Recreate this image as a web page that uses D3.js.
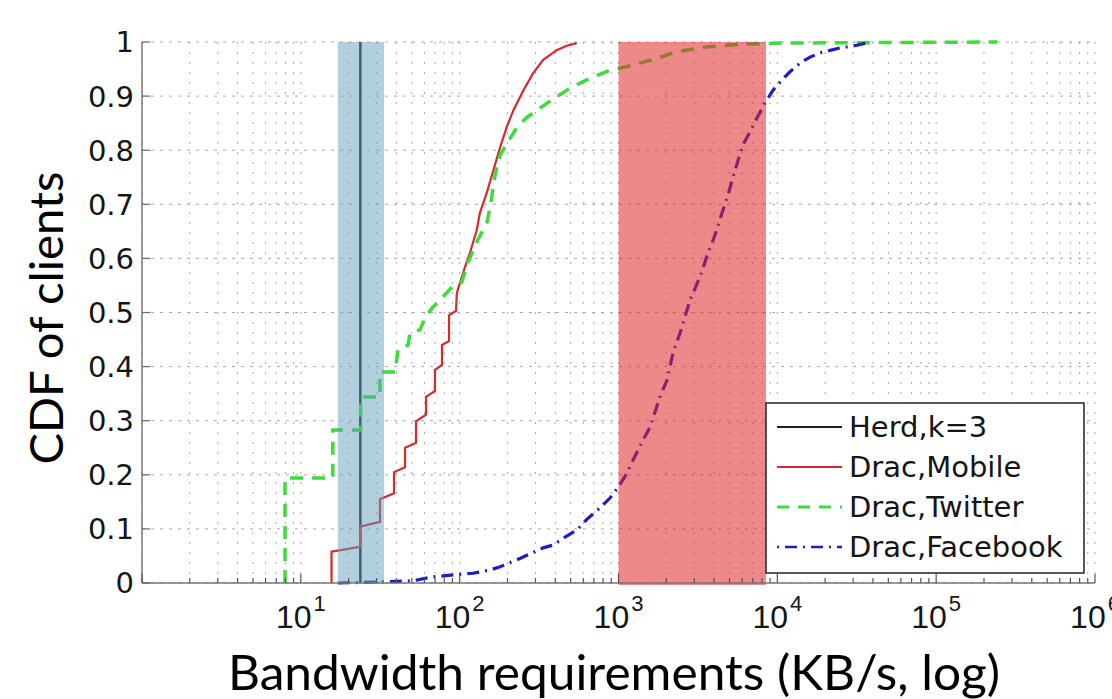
<!DOCTYPE html>
<html>
<head>
<meta charset="utf-8">
<script src="https://cdn.jsdelivr.net/npm/d3@7"></script>
<style>
  html, body { margin: 0; padding: 0; background: #fff; }
  svg { display: block; }
</style>
</head>
<body>
<script>
// values (KB/s on x, CDF on y)
const herdX = 23.7;
const herdBand = [17.1, 33.4];
const dracBand = [1000, 8480];

const mobileX = [15.6, 15.6, 23.6, 23.6, 31.5, 31.5, 38.6, 38.6, 45.3, 45.3, 53.1, 53.1, 61.4, 61.4, 69.9, 69.9, 77.4, 77.4, 85.7, 85.7, 94.8, 96, 108, 116, 128, 134, 148, 163, 180, 198, 218, 252, 291, 336, 408, 472, 546];
const mobileY = [0, 0.058, 0.067, 0.104, 0.113, 0.155, 0.166, 0.205, 0.214, 0.250, 0.259, 0.299, 0.311, 0.344, 0.355, 0.394, 0.403, 0.440, 0.447, 0.495, 0.503, 0.536, 0.584, 0.610, 0.652, 0.684, 0.721, 0.763, 0.806, 0.843, 0.874, 0.911, 0.943, 0.967, 0.985, 0.993, 0.998];

const twitterX = [7.95, 7.95, 15.9, 15.9, 23.8, 23.8, 31.5, 31.5, 39.2, 40.9, 47.3, 48.7, 56.3, 60.5, 66.9, 75.2, 89.5, 103, 113, 130, 149, 158, 167, 180, 199, 230, 266, 307, 355, 474, 572, 691, 884, 1115, 1366, 1748, 2335, 3608, 6080, 10400, 241600];
const twitterY = [0, 0.194, 0.194, 0.283, 0.283, 0.344, 0.344, 0.390, 0.390, 0.431, 0.440, 0.462, 0.468, 0.490, 0.508, 0.523, 0.547, 0.556, 0.593, 0.634, 0.667, 0.708, 0.754, 0.791, 0.813, 0.843, 0.861, 0.874, 0.887, 0.911, 0.924, 0.935, 0.948, 0.954, 0.961, 0.970, 0.982, 0.991, 0.996, 0.998, 1.0];

const facebookX = [17.1, 31.5, 50.8, 66.9, 90.8, 121, 155, 180, 230, 251, 335, 387, 461, 548, 634, 765, 884, 1007, 1131, 1234, 1427, 1579, 1826, 2021, 2204, 2440, 2820, 3261, 3661, 4051, 4484, 4892, 5413, 6080, 6730, 7450, 8365, 9393, 10860, 12020, 13890, 16060, 18570, 24810, 31760, 38330];
const facebookY = [0, 0.002, 0.004, 0.011, 0.015, 0.018, 0.024, 0.030, 0.043, 0.048, 0.065, 0.070, 0.085, 0.098, 0.118, 0.139, 0.157, 0.179, 0.203, 0.227, 0.264, 0.288, 0.344, 0.375, 0.425, 0.462, 0.523, 0.566, 0.610, 0.643, 0.684, 0.717, 0.763, 0.810, 0.834, 0.860, 0.887, 0.911, 0.932, 0.945, 0.961, 0.972, 0.980, 0.989, 0.994, 1.0];

const legendLabels = ["Herd,k=3", "Drac,Mobile", "Drac,Twitter", "Drac,Facebook"];
const yTicks = [0, 0.1, 0.2, 0.3, 0.4, 0.5, 0.6, 0.7, 0.8, 0.9, 1];
const xExponents = [1, 2, 3, 4, 5, 6];

const width = 1112;
const height = 699;

const svg = d3
    .select("body")
    .append("svg")
    .attr("width", width)
    .attr("height", height);

const plot = { left: 142, right: 1095, top: 42, bottom: 583 };

const x = d3.scaleLog().domain([1, 1e6]).range([plot.left, plot.right]);
const y = d3.scaleLinear().domain([0, 1]).range([plot.bottom, plot.top]);

const tickFont = "'DejaVu Sans', sans-serif";
const titleFont = "Lato, 'Open Sans', sans-serif";

// grid
const grid = svg.append("g");
grid.selectAll(".vgrid")
    .data(x.ticks())
    .enter()
    .append("line")
    .attr("x1", (d) => x(d))
    .attr("x2", (d) => x(d))
    .attr("y1", plot.top)
    .attr("y2", plot.bottom)
    .attr("stroke", "#a8a8a8")
    .attr("stroke-width", 1)
    .attr("stroke-dasharray", "2,8");

grid.selectAll(".hgrid")
    .data(yTicks)
    .enter()
    .append("line")
    .attr("x1", plot.left)
    .attr("x2", plot.right)
    .attr("y1", (d) => y(d))
    .attr("y2", (d) => y(d))
    .attr("stroke", "#a8a8a8")
    .attr("stroke-width", 1)
    .attr("stroke-dasharray", "3,6");

// curves
const line = d3
    .line()
    .x((d) => x(d[0]))
    .y((d) => y(d[1]));

const zipped = (xs, ys) => xs.map((v, i) => [v, ys[i]]);

svg.append("path")
    .datum([[herdX, 0], [herdX, 1]])
    .attr("d", line)
    .attr("fill", "none")
    .attr("stroke", "#1e1e1e")
    .attr("stroke-width", 2.5);

svg.append("path")
    .datum(zipped(mobileX, mobileY))
    .attr("d", line)
    .attr("fill", "none")
    .attr("stroke", "#d42a2a")
    .attr("stroke-width", 2.2);

svg.append("path")
    .datum(zipped(twitterX, twitterY))
    .attr("d", line)
    .attr("fill", "none")
    .attr("stroke", "#3ddc3d")
    .attr("stroke-width", 3.5)
    .attr("stroke-dasharray", "13,9");

svg.append("path")
    .datum(zipped(facebookX, facebookY))
    .attr("d", line)
    .attr("fill", "none")
    .attr("stroke", "#1c1cc8")
    .attr("stroke-width", 3.2)
    .attr("stroke-dasharray", "12,6,2,6");

// shaded bands drawn over the curves
svg.append("rect")
    .attr("x", x(herdBand[0]))
    .attr("width", x(herdBand[1]) - x(herdBand[0]))
    .attr("y", plot.top)
    .attr("height", plot.bottom - plot.top)
    .attr("fill", "rgb(100,160,185)")
    .attr("opacity", 0.5);

svg.append("rect")
    .attr("x", x(dracBand[0]))
    .attr("width", x(dracBand[1]) - x(dracBand[0]))
    .attr("y", plot.top)
    .attr("height", plot.bottom - plot.top + 2)
    .attr("fill", "rgb(222,40,40)")
    .attr("opacity", 0.55);

// axes
svg.append("line")
    .attr("x1", plot.left).attr("x2", plot.left)
    .attr("y1", plot.top).attr("y2", plot.bottom)
    .attr("stroke", "#777").attr("stroke-width", 1.5);
svg.append("line")
    .attr("x1", plot.left).attr("x2", plot.right)
    .attr("y1", plot.bottom).attr("y2", plot.bottom)
    .attr("stroke", "#777").attr("stroke-width", 1.5);

svg.selectAll(".ytick")
    .data(yTicks)
    .enter()
    .append("line")
    .attr("x1", plot.left)
    .attr("x2", plot.left + 8)
    .attr("y1", (d) => y(d))
    .attr("y2", (d) => y(d))
    .attr("stroke", "#666")
    .attr("stroke-width", 1.2);

svg.selectAll(".xtick")
    .data(x.ticks())
    .enter()
    .append("line")
    .attr("x1", (d) => x(d))
    .attr("x2", (d) => x(d))
    .attr("y1", plot.bottom)
    .attr("y2", (d) => (Number.isInteger(Math.log10(d)) ? plot.bottom - 9 : plot.bottom - 5))
    .attr("stroke", "#555")
    .attr("stroke-width", 1.2);

svg.selectAll(".ylabel")
    .data(yTicks)
    .enter()
    .append("text")
    .attr("x", 134)
    .attr("y", (d) => y(d))
    .attr("dy", "0.36em")
    .attr("text-anchor", "end")
    .attr("font-family", tickFont)
    .attr("font-size", 29)
    .attr("fill", "#151515")
    .text((d) => d3.format("~g")(d));

const xLabels = svg
    .selectAll(".xlabel")
    .data(xExponents)
    .enter()
    .append("text")
    .attr("x", (d) => x(Math.pow(10, d)))
    .attr("y", 628)
    .attr("text-anchor", "middle")
    .attr("font-family", "'Liberation Sans', Arial, sans-serif")
    .attr("font-size", 32)
    .attr("fill", "#151515");
xLabels.append("tspan").text("10");
xLabels.append("tspan")
    .attr("dy", -17)
    .attr("dx", 2)
    .attr("font-size", 22)
    .text((d) => d);

// axis titles
svg.append("text")
    .attr("transform", "translate(63,318) rotate(-90)")
    .attr("text-anchor", "middle")
    .attr("font-family", titleFont)
    .attr("font-size", 47)
    .attr("fill", "#000")
    .attr("textLength", 293)
    .attr("lengthAdjust", "spacingAndGlyphs")
    .text("CDF of clients");

svg.append("text")
    .attr("x", 228)
    .attr("y", 690)
    .attr("font-family", titleFont)
    .attr("font-size", 48)
    .attr("fill", "#000")
    .attr("textLength", 772)
    .attr("lengthAdjust", "spacingAndGlyphs")
    .text("Bandwidth requirements (KB/s, log)");

// legend
const legend = svg.append("g");
legend.append("rect")
    .attr("x", 766)
    .attr("y", 403)
    .attr("width", 318)
    .attr("height", 170)
    .attr("fill", "#fff")
    .attr("stroke", "#222")
    .attr("stroke-width", 1.5);

const legendStyles = [
    { stroke: "#1e1e1e", width: 2.2, dash: null },
    { stroke: "#d42a2a", width: 2.2, dash: null },
    { stroke: "#3ddc3d", width: 3, dash: "12,9" },
    { stroke: "#1c1cc8", width: 2.6, dash: "2,6,12,6" },
];

const legendItems = legend
    .selectAll(".legend-item")
    .data(legendLabels)
    .enter()
    .append("g")
    .attr("class", "legend-item")
    .attr("transform", (d, i) => `translate(777, ${427 + i * 40})`);

legendItems.append("line")
    .attr("x1", 0)
    .attr("x2", 65)
    .attr("stroke", (d, i) => legendStyles[i].stroke)
    .attr("stroke-width", (d, i) => legendStyles[i].width)
    .attr("stroke-dasharray", (d, i) => legendStyles[i].dash);

legendItems.append("text")
    .attr("x", 72)
    .attr("dy", "0.36em")
    .attr("font-family", tickFont)
    .attr("font-size", 29)
    .attr("fill", "#151515")
    .text((d) => d);
</script>
</body>
</html>
